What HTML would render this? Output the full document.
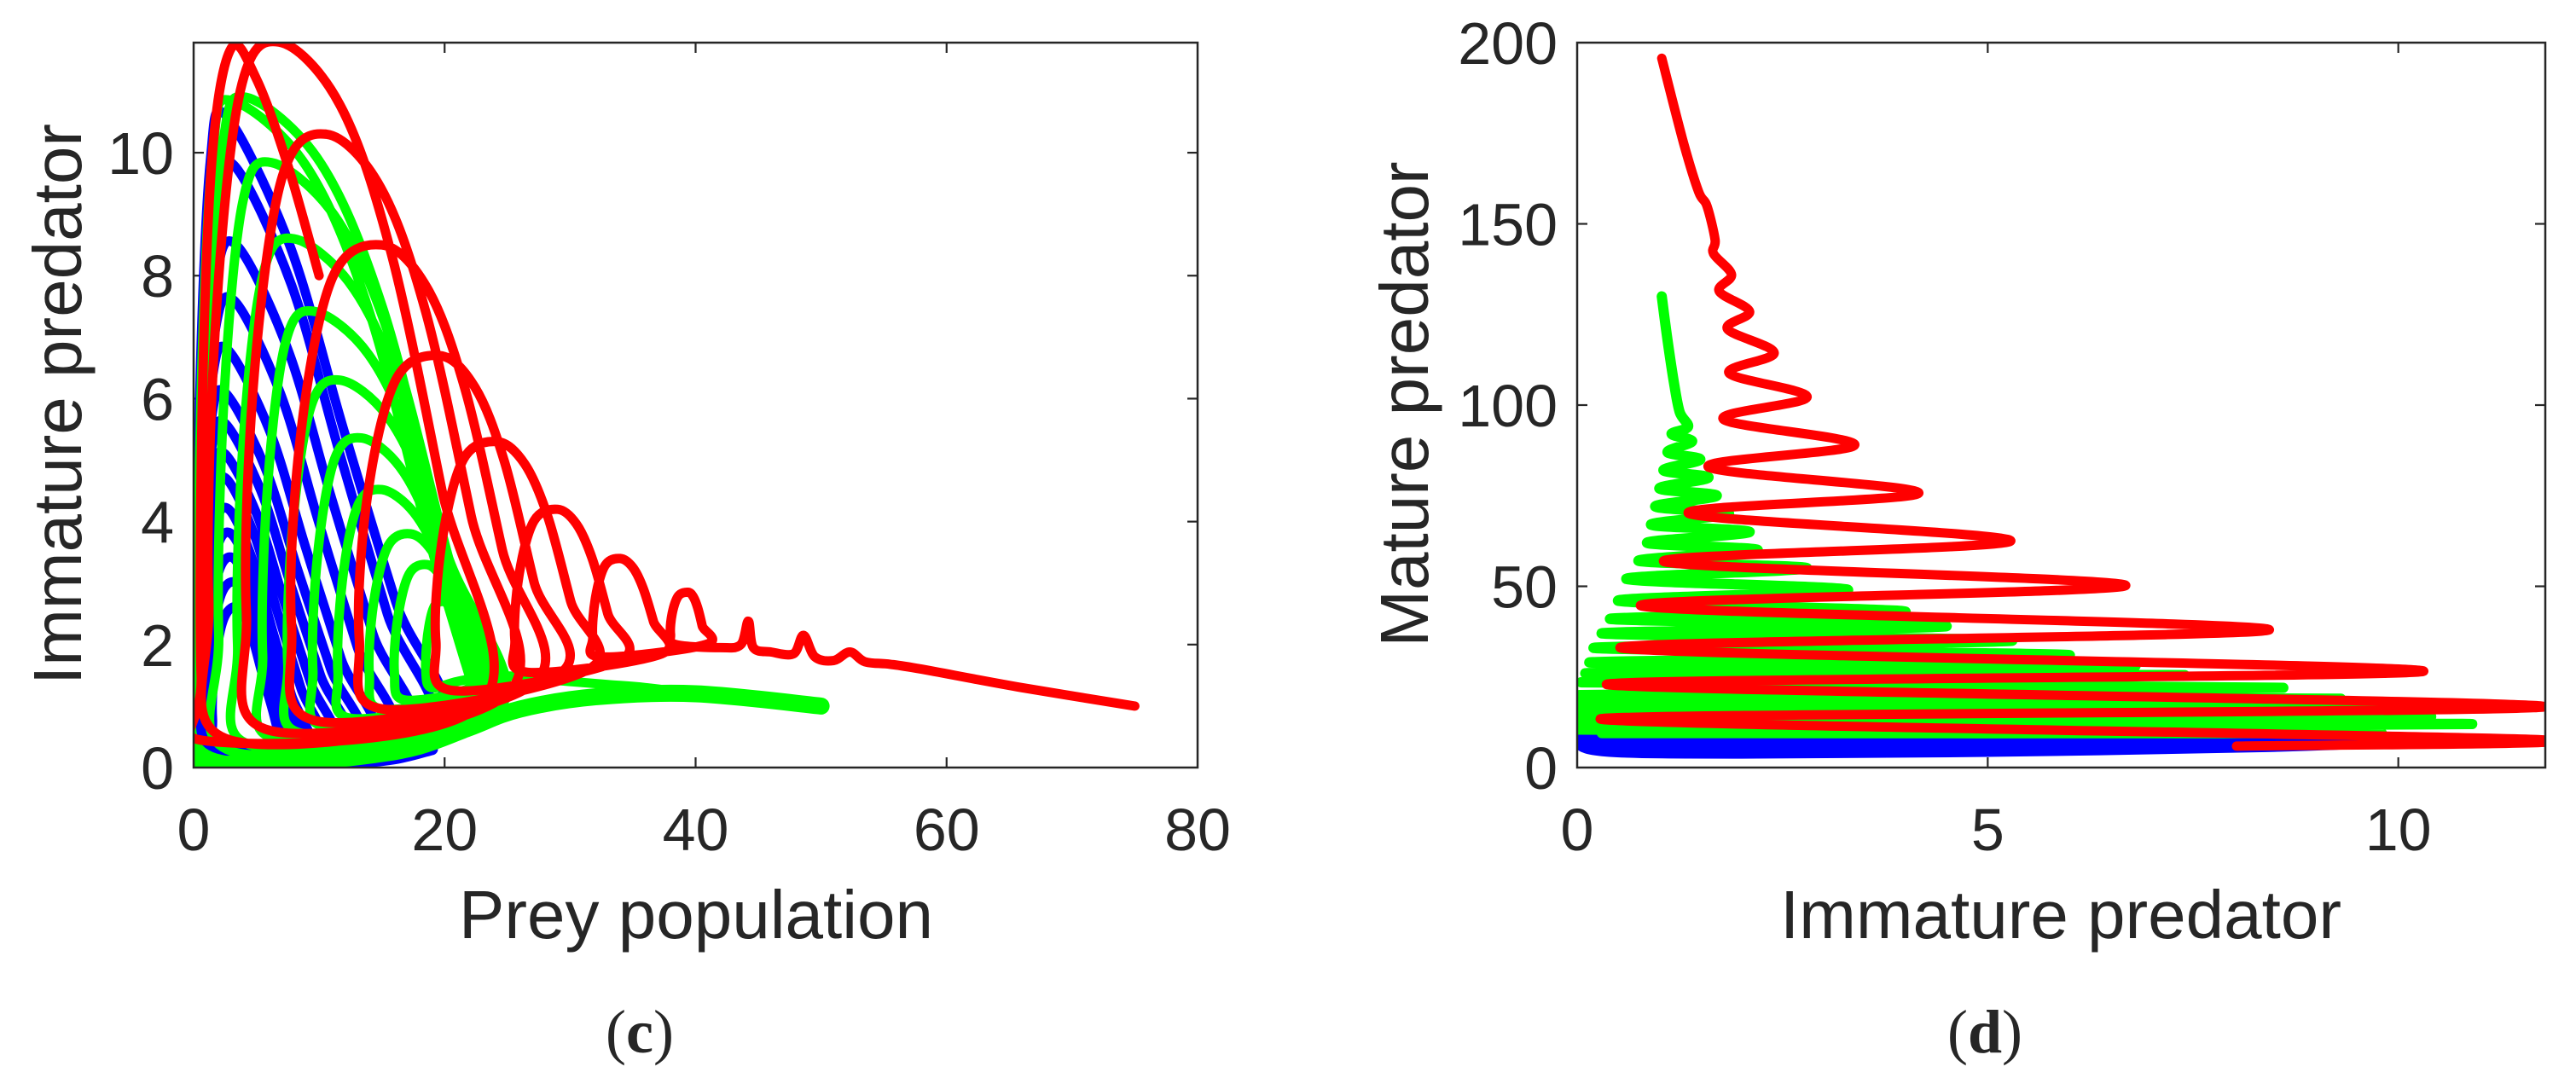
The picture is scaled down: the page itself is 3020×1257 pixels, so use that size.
<!DOCTYPE html>
<html><head><meta charset="utf-8"><style>
html,body{margin:0;padding:0;background:#fff;}
svg{display:block;}
text{font-family:"Liberation Sans",Arial,sans-serif;fill:#262626;}
.cap{font-family:"Liberation Serif","Times New Roman",serif;}
</style></head><body>
<svg id="fig" width="3020" height="1257" viewBox="0 0 3020 1257" xmlns="http://www.w3.org/2000/svg">
<defs>
<clipPath id="clipC"><rect x="227" y="50" width="1177" height="850"/></clipPath>
<clipPath id="clipD"><rect x="1849" y="50" width="1135" height="850"/></clipPath>
</defs>
<g id="panelC"></g>
<g id="panelD"></g>
</svg>
<script>
// ---------- Panel (c) data: prey vs immature predator ----------
const cXTicks = [0, 20, 40, 60, 80];
const cYTicks = [0, 2, 4, 6, 8, 10];
// loops: [leftX, peakX, topY, rightX, bottomLeftY, rightEndY]
const cBlueLoops = [[0.3,2.6,10.6,19.5,0.05,0.6],[0.35,3.2,9.8,18.5,0.06,0.55],[0.4,3.4,8.5,17,0.07,0.5],[0.45,3.2,7.6,15.5,0.08,0.45],[0.5,2.7,6.8,14,0.1,0.4],[0.55,2.5,6.1,13,0.12,0.38],[0.6,2.5,5.6,12,0.14,0.35],[0.65,2.5,5.1,11,0.16,0.33],[0.7,2.6,4.7,10,0.18,0.3],[0.8,2.8,4.2,9,0.2,0.3],[0.9,3,3.8,8.5,0.22,0.3],[1,3.2,3.4,8,0.25,0.3],[1.2,3.4,3.0,7.5,0.3,0.3],[1.5,3.6,2.6,7,0.35,0.35]];
const cBlueBase = [[0.2,0.03],[6,0.04],[12,0.07],[16,0.15],[19,0.3]];
const cGreenTail = [[50,1.0],[45,1.1],[40,1.2],[36,1.3],[33,1.35],[30,1.4],[27,1.45],[24,1.5],[21,1.4]];
const cGreenLoops = [[18.5,19.9,2.7,22,1.3,1.3],[16,18.6,3.3,22.5,1.1,1.25],[14,17.3,3.8,23,0.95,1.2],[11.5,15,4.52,23.5,0.8,1.15],[9.5,13.4,5.36,23.5,0.65,1.1],[7.5,11.7,6.3,24,0.55,1.05],[5.5,9.6,7.42,24,0.45,1.0],[3.5,8,8.6,24,0.35,0.95],[2,6.2,9.84,24,0.25,0.9],[0.8,4.2,10.9,24,0.15,0.85],[0.4,3.0,10.85,23,0.1,0.8]];
const cGreenBase = [[0.3,0.05],[8,0.08],[14,0.2],[18,0.35],[22,0.65],[26,0.95],[32,1.15],[40,1.2],[50,1.0]];
const cRedTail = [[75,1.0],[66,1.3],[58,1.6],[55.5,1.68],[53.5,1.72],[52.3,1.88],[51,1.74],[49.5,1.8],[48.6,2.15],[47.8,1.85],[46,1.88],[44.6,1.95],[44.2,2.38],[43.6,2.0],[42,1.95]];
const cRedLoops = [[38.0,39.4,2.85,40.8,2.0,2.0],[31.8,34.0,3.4,37.3,1.8,1.85],[25.6,29.0,4.2,34.0,1.55,1.75],[19.3,24.2,5.3,31.5,1.25,1.6],[13.2,19.6,6.7,29,0.95,1.5],[7.8,15.0,8.5,27,0.75,1.35],[4.2,10.6,10.3,25,0.6,1.2],[1.2,6.8,11.8,23,0.45,1.05]];
const cRedEnd = [[1.6,0.42],[0.6,1.5],[0.7,6],[1.5,10],[3.0,11.7],[5.0,11.2],[7.5,9.8],[10,8.0]];

// ---------- Panel (d) data: immature vs mature predator ----------
const dXTicks = [0, 5, 10];
const dYTicks = [0, 50, 100, 150, 200];
const dRed = [[1.03,195.7],[1.3,172],[1.48,158.8],[1.58,155],[1.68,145.6],[1.66,141.8],[1.88,136],[1.73,131.4],[2.1,125.8],[1.83,121],[2.4,114.4],[1.85,108.8],[2.8,102.2],[1.78,96.1],[3.38,89],[1.6,82.9],[4.16,75.7],[1.36,70.1],[5.28,62.5],[1.06,56.8],[6.68,50.2],[0.78,44.6],[8.43,38],[0.53,33],[10.31,26.6],[0.36,22.9],[11.78,16.8],[0.28,13.4],[11.7,7.7],[8.03,5.9]];
const dGreen = [[1.03,130],[1.1,118],[1.18,106],[1.25,98],[1.35,94],[1.15,92],[1.4,90],[1.1,87],[1.5,85],[1.05,82],[1.6,80],[1.0,77],[1.7,75],[0.95,72],[1.85,70],[0.9,67],[2.1,65],[0.85,62],[2.2,60],[0.75,57],[2.8,55],[0.6,52],[3.3,49],[0.5,46],[4.0,43],[0.4,41],[4.5,39],[0.3,37],[5.3,35],[0.2,33],[6.0,31],[0.15,29],[6.8,28],[0.1,26],[7.4,25.5],[0.05,23.5],[8.6,22],[0.03,20],[9.3,19],[0.02,17.5],[9.9,16.8],[0,15],[10.4,14],[0,12.5],[10.9,12],[0,10.5],[9.8,9.5],[0.3,9.5]];
const dBlue = [[0.1,9.8],[0,7],[0.4,4.6],[2,4.1],[5,4.6],[8.4,5.9],[9.4,7.3],[6,7.9],[2,9.2],[0.1,9.8]];

const NS = "http://www.w3.org/2000/svg";
function mk(tag, attrs, parent){ const e=document.createElementNS(NS,tag); for(const k in attrs) e.setAttribute(k,attrs[k]); if(parent) parent.appendChild(e); return e; }
function crPath(pts, sx, sy){
  const P = pts.map(p=>[sx(p[0]), sy(p[1])]);
  let d = "M"+P[0][0].toFixed(1)+","+P[0][1].toFixed(1);
  for(let i=0;i<P.length-1;i++){
    const p0=P[Math.max(i-1,0)], p1=P[i], p2=P[i+1], p3=P[Math.min(i+2,P.length-1)];
    const c1=[p1[0]+(p2[0]-p0[0])/6, p1[1]+(p2[1]-p0[1])/6];
    const c2=[p2[0]-(p3[0]-p1[0])/6, p2[1]-(p3[1]-p1[1])/6];
    d+=" C"+c1[0].toFixed(1)+","+c1[1].toFixed(1)+" "+c2[0].toFixed(1)+","+c2[1].toFixed(1)+" "+p2[0].toFixed(1)+","+p2[1].toFixed(1);
  }
  return d;
}
function loopPts(L, rh){
  const [l,px,top,r,bl,re]=L, h=top-bl, out=[];
  out.push([l+(px-l)*0.3, bl]);
  out.push([l, bl+0.2*h]);
  out.push([l+(px-l)*0.1, bl+0.6*h]);
  out.push([l+(px-l)*0.45, bl+0.93*h]);
  out.push([px, top]);
  out.push([px+(r-px)*0.3, bl+rh[0]*h]);
  out.push([px+(r-px)*0.55, bl+rh[1]*h]);
  out.push([px+(r-px)*0.8, bl+rh[2]*h]);
  out.push([r, re]);
  return out;
}
function axes(g, X0,X1,Y0,Y1, xmin,xmax,ymin,ymax, xt,yt, prefix){
  const sx=v=>X0+(v-xmin)/(xmax-xmin)*(X1-X0), sy=v=>Y0-(v-ymin)/(ymax-ymin)*(Y0-Y1);
  const ax=mk('g',{},g);
  
  
  for(const t of xt){
    const x=sx(t);
    if(t>xmin && t<xmax){
      mk('line',{x1:x,y1:Y0,x2:x,y2:Y0-12,stroke:'#262626','stroke-width':2.2},ax);
      mk('line',{x1:x,y1:Y1,x2:x,y2:Y1+12,stroke:'#262626','stroke-width':2.2},ax);
    }
    const tx=mk('text',{x:x,y:997,'font-size':70,'text-anchor':'middle'},ax);
    tx.textContent=t;
    
    
  }
  for(const t of yt){
    const y=sy(t);
    if(t>ymin && t<ymax){
      mk('line',{x1:X0,y1:y,x2:X0+12,y2:y,stroke:'#262626','stroke-width':2.2},ax);
      mk('line',{x1:X1,y1:y,x2:X1-12,y2:y,stroke:'#262626','stroke-width':2.2},ax);
    }
    const ty=mk('text',{x:X0-23,y:y+25,'font-size':70,'text-anchor':'end'},ax);
    ty.textContent=t;
    
    
  }
  return {sx,sy,ax};
}
function frame(g,X0,X1,Y0,Y1,prefix){
  const r=mk('rect',{x:X0,y:Y1,width:X1-X0,height:Y0-Y1,fill:'none',stroke:'#262626','stroke-width':2.5},g);
  
  
}
function line(g, d, color, w, name, fill){
  const p=mk('path',{d:d,fill:fill||'none',stroke:color,'stroke-width':w,'stroke-linejoin':'round','stroke-linecap':'round'},g);
  
  
  return p;
}

// ----- Panel C -----
(function(){
  const g=document.getElementById('panelC');
  const X0=227,X1=1404,Y0=900,Y1=50;
  const {sx,sy}=axes(g,X0,X1,Y0,Y1,0,80,0,11.79,cXTicks,cYTicks,'c');
  const plot=mk('g',{'clip-path':'url(#clipC)'},g);
  const W=11;
  let bp=[]; cBlueLoops.forEach(L=>{ bp=bp.concat(loopPts(L,[0.8,0.52,0.25])); });
  line(plot, crPath(bp,sx,sy), '#0000ff', W, 'c-series-blue');
  line(plot, crPath(cBlueBase,sx,sy), '#0000ff', 14, 'c-series-blue-base');
  line(plot, crPath(cGreenBase,sx,sy), '#00ff00', 20, 'c-series-green-base');
  let gp=cGreenTail.slice(); cGreenLoops.forEach(L=>{ gp=gp.concat(loopPts(L,[0.9,0.68,0.32])); });
  line(plot, crPath(gp,sx,sy), '#00ff00', W, 'c-series-green');
  let rp=cRedTail.slice(); cRedLoops.forEach(L=>{ rp=rp.concat(loopPts(L,[0.91,0.7,0.36])); });
  rp=rp.concat(cRedEnd);
  line(plot, crPath(rp,sx,sy), '#ff0000', W, 'c-series-red');
  frame(g,X0,X1,Y0,Y1,'c');
  let t=mk('text',{x:816,y:1100,'font-size':80,'text-anchor':'middle'},g);
  t.textContent='Prey population';
  
  
  t=mk('text',{x:0,y:0,'font-size':80,'text-anchor':'middle',transform:'translate(95,474) rotate(-90)'},g);
  t.textContent='Immature predator';
  
  
  t=mk('text',{x:750,y:1234,'font-size':72,'text-anchor':'middle','class':'cap'},g);
  t.innerHTML='(<tspan font-weight="bold">c</tspan>)';
  
  
})();

// ----- Panel D -----
(function(){
  const g=document.getElementById('panelD');
  const X0=1849,X1=2984,Y0=900,Y1=50;
  const {sx,sy}=axes(g,X0,X1,Y0,Y1,0,11.79,0,200,dXTicks,dYTicks,'d');
  const plot=mk('g',{'clip-path':'url(#clipD)'},g);
  line(plot, crPath(dBlue,sx,sy), '#0000ff', 14, 'd-series-blue', '#0000ff');
  line(plot, crPath(dGreen,sx,sy), '#00ff00', 12, 'd-series-green');
  line(plot, crPath(dRed,sx,sy), '#ff0000', 11, 'd-series-red');
  frame(g,X0,X1,Y0,Y1,'d');
  let t=mk('text',{x:2416,y:1100,'font-size':80,'text-anchor':'middle'},g);
  t.textContent='Immature predator';
  
  
  t=mk('text',{x:0,y:0,'font-size':80,'text-anchor':'middle',transform:'translate(1674,474) rotate(-90)'},g);
  t.textContent='Mature predator';
  
  
  t=mk('text',{x:2327,y:1234,'font-size':72,'text-anchor':'middle','class':'cap'},g);
  t.innerHTML='(<tspan font-weight="bold">d</tspan>)';
  
  
})();
</script>
</body></html>
